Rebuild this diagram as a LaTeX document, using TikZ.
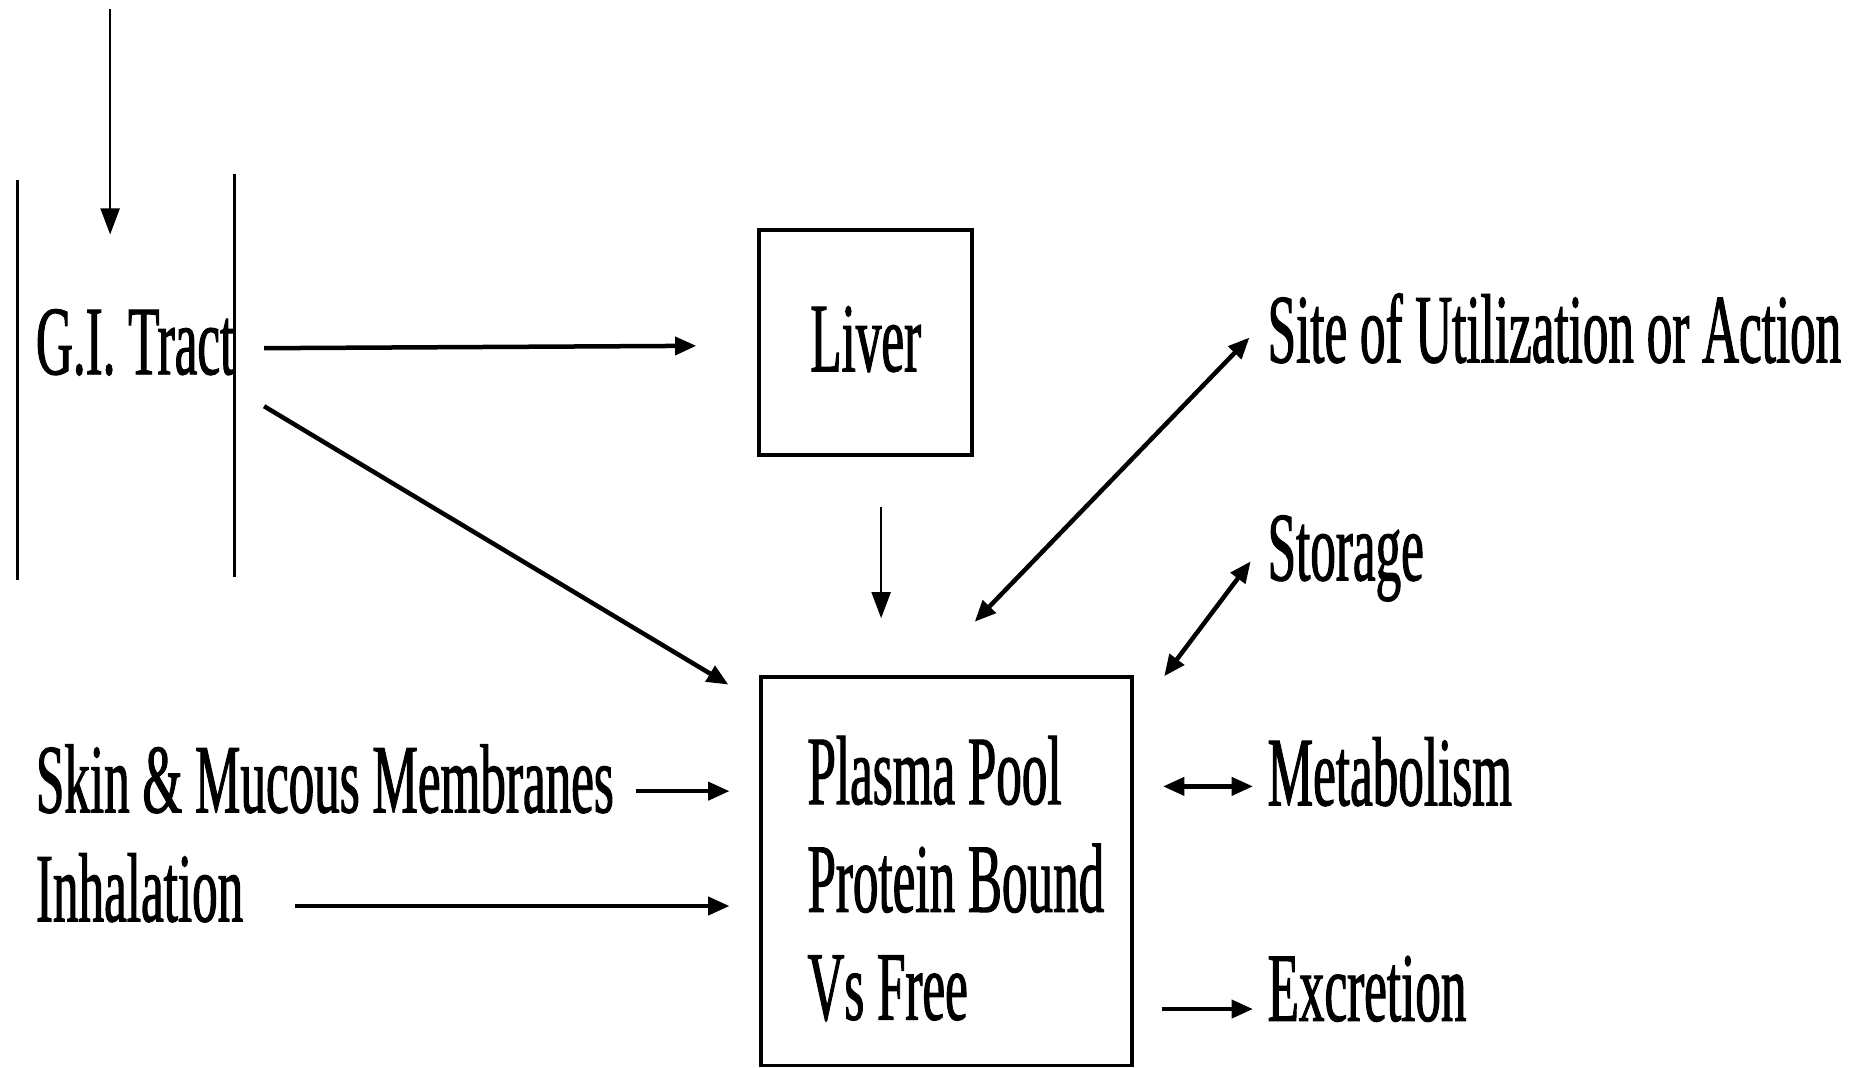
\documentclass[tikz,border=0pt]{standalone}
\usepackage{fontspec}
\setmainfont{Liberation Serif}[FakeStretch=0.52,FakeBold=1]
\usetikzlibrary{arrows.meta}
\begin{document}
\begin{tikzpicture}[x=0.5pt,y=-0.5pt,
  txt/.style={font=\fontsize{41.5}{45.5}\selectfont},
  lbl/.style={txt, anchor=base west, inner sep=0pt},
  box/.style={txt, draw, line width=1.6pt},
  wall/.style={line width=1.1pt},
  thinarr/.style={line width=1pt, -{Triangle[length=11pt,width=8pt]}},
  thickarr/.style={line width=1.9pt, -{Triangle[length=9pt,width=7.5pt]}},
  bothdir/.style={line width=1.9pt, {Triangle[length=9pt,width=7.5pt]}-{Triangle[length=9pt,width=7.5pt]}},
]
\useasboundingbox (0,0) rectangle (1568,901);

% G.I. tract
\node[lbl] (gi) at (30,316) {G.I. Tract};
\coordinate (wallLa) at (15,152);
\coordinate (wallLb) at (15,490);
\coordinate (wallRa) at (198,147);
\coordinate (wallRb) at (198,487);
\draw[wall] (wallLa) -- (wallLb);
\draw[wall] (wallRa) -- (wallRb);
\coordinate (intake) at (93,8);
\coordinate (intakeEnd) at (93,198);
\draw[thinarr] (intake) -- (intakeEnd);

% Liver
\node[box, minimum width=90pt, minimum height=95pt, inner sep=0pt] (liver) at (731,289) {Liver\rule[-3pt]{0pt}{3pt}};

% Plasma pool
\node[box, anchor=north west, minimum width=156.5pt, minimum height=164pt,
      inner sep=0pt, align=left] (plasma) at (641,570)
  {\rule{0pt}{35pt}\hspace*{8pt}Plasma Pool\\\hspace*{8pt}Protein Bound\\\hspace*{8pt}Vs Free};

% Left side sources
\node[lbl] (skin) at (30,686) {Skin \& Mucous Membranes};
\node[lbl] (inhal) at (30,778) {Inhalation};

% Right side targets
\node[lbl] (site) at (1070,306) {Site of Utilization or Action};
\node[lbl] (stor) at (1070,490) {Storage};
\node[lbl] (metab) at (1070,680) {Metabolism};
\node[lbl] (excr) at (1070,862) {Excretion};

% connectors
\coordinate (giA) at (223,294);
\coordinate (liverIn) at (588,292);
\draw[thickarr] (giA) -- (liverIn);

\coordinate (giB) at (223,343);
\coordinate (plasmaInA) at (615,578);
\draw[thickarr] (giB) -- (plasmaInA);

\coordinate (liverOut) at (744,428);
\coordinate (plasmaTop) at (744,522);
\draw[thinarr] (liverOut) -- (plasmaTop);

\coordinate (plasmaSiteA) at (823,525);
\coordinate (siteIn) at (1055,285);
\draw[bothdir] (plasmaSiteA) -- (siteIn);

\coordinate (plasmaStorA) at (983,571);
\coordinate (storIn) at (1056,474);
\draw[bothdir] (plasmaStorA) -- (storIn);

\coordinate (plasmaMetA) at (982,664);
\coordinate (metIn) at (1058,664);
\draw[bothdir] (plasmaMetA) -- (metIn);

\coordinate (plasmaExA) at (981,852);
\coordinate (exIn) at (1058,852);
\draw[thickarr] (plasmaExA) -- (exIn);

\coordinate (skinOut) at (537,668);
\coordinate (plasmaInB) at (616,668);
\draw[thickarr] (skinOut) -- (plasmaInB);

\coordinate (inhalOut) at (249,765);
\coordinate (plasmaInC) at (616,765);
\draw[thickarr] (inhalOut) -- (plasmaInC);
\end{tikzpicture}
\end{document}
